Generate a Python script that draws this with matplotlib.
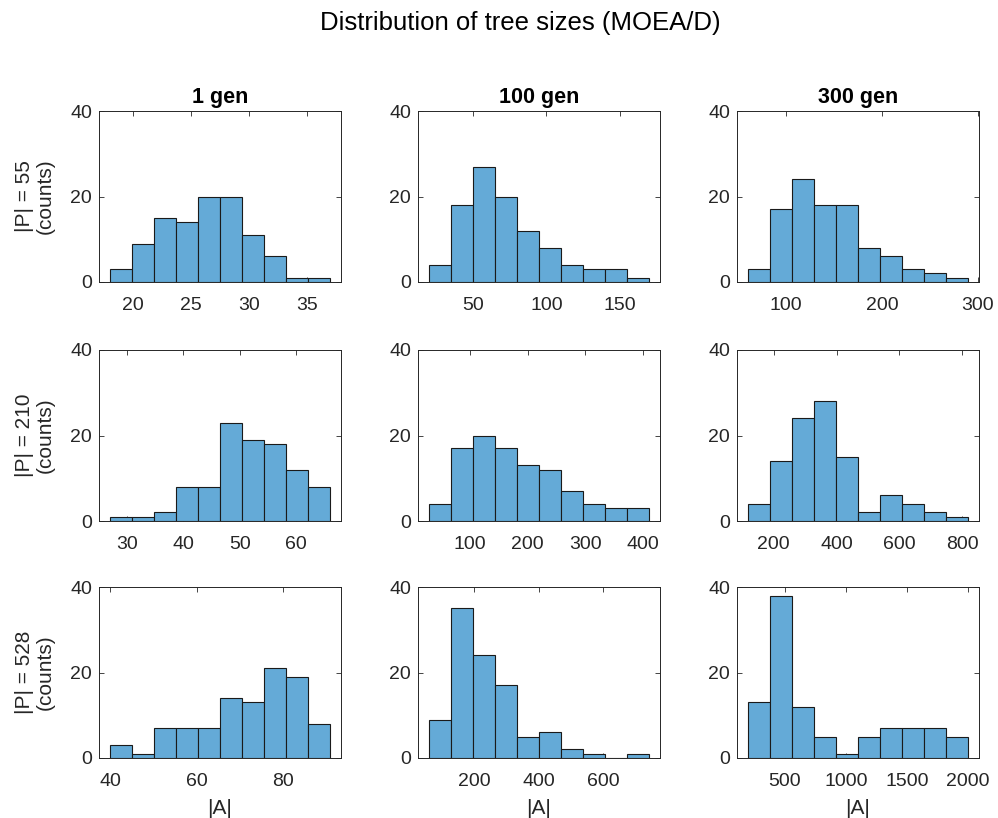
import numpy as np
import matplotlib
matplotlib.use("Agg")
import matplotlib.pyplot as plt

plt.rcParams['font.family'] = ['Liberation Sans', 'DejaVu Sans']

title = "Distribution of tree sizes (MOEA/D)"
col_titles = ["1 gen", "100 gen", "300 gen"]
row_labels = ["|P| = 55\n(counts)", "|P| = 210\n(counts)", "|P| = 528\n(counts)"]
xlabel = "|A|"

# bin edges and counts (row = |P|, col = generation)
edges_55_1 = [18.0, 19.9, 21.8, 23.7, 25.6, 27.5, 29.4, 31.3, 33.2, 35.1, 37.0]
counts_55_1 = [3, 9, 15, 14, 20, 20, 11, 6, 1, 1]
edges_55_100 = [20, 35, 50, 65, 80, 95, 110, 125, 140, 155, 170]
counts_55_100 = [4, 18, 27, 20, 12, 8, 4, 3, 3, 1]
edges_55_300 = [60, 83, 106, 129, 152, 175, 198, 221, 244, 267, 290]
counts_55_300 = [3, 17, 24, 18, 18, 8, 6, 3, 2, 1]

edges_210_1 = [27.0, 30.9, 34.8, 38.7, 42.6, 46.5, 50.4, 54.3, 58.2, 62.1, 66.0]
counts_210_1 = [1, 1, 2, 8, 8, 23, 19, 18, 12, 8]
edges_210_100 = [29, 67.1, 105.2, 143.3, 181.4, 219.5, 257.6, 295.7, 333.8, 371.9, 410]
counts_210_100 = [4, 17, 20, 17, 13, 12, 7, 4, 3, 3]
edges_210_300 = [118, 188, 258, 328, 398, 468, 538, 608, 678, 748, 818]
counts_210_300 = [4, 14, 24, 28, 15, 2, 6, 4, 2, 1]

edges_528_1 = [40, 45.1, 50.2, 55.2, 60.3, 65.4, 70.5, 75.6, 80.6, 85.7, 90.8]
counts_528_1 = [3, 1, 7, 7, 7, 14, 13, 21, 19, 8]
edges_528_100 = [61, 129.1, 197.2, 265.3, 333.4, 401.5, 469.6, 537.7, 605.8, 673.9, 742]
counts_528_100 = [9, 35, 24, 17, 5, 6, 2, 1, 0, 1]
edges_528_300 = [200, 380, 560, 740, 920, 1100, 1280, 1460, 1640, 1820, 2000]
counts_528_300 = [13, 38, 12, 5, 1, 5, 7, 7, 7, 5]

xticks_55 = [[20, 25, 30, 35], [50, 100, 150], [100, 200, 300]]
xticks_210 = [[30, 40, 50, 60], [100, 200, 300, 400], [200, 400, 600, 800]]
xticks_528 = [[40, 60, 80], [200, 400, 600], [500, 1000, 1500, 2000]]
yticks = [0, 20, 40]

edges = [[edges_55_1, edges_55_100, edges_55_300],
         [edges_210_1, edges_210_100, edges_210_300],
         [edges_528_1, edges_528_100, edges_528_300]]
counts = [[counts_55_1, counts_55_100, counts_55_300],
          [counts_210_1, counts_210_100, counts_210_300],
          [counts_528_1, counts_528_100, counts_528_300]]
xticks = [xticks_55, xticks_210, xticks_528]

W, H = 998, 818
fig = plt.figure(figsize=(W / 100, H / 100), dpi=100)

lefts = [99, 418, 737]
tops = [111, 350, 587]
aw, ah = 242, 171
axc = '#262626'
face = '#64AAD7'

for r in range(3):
    for c in range(3):
        ax = fig.add_axes([lefts[c] / W, 1 - (tops[r] + ah) / H, aw / W, ah / H])
        e = np.array(edges[r][c], dtype=float)
        ax.bar(e[:-1], counts[r][c], width=np.diff(e), align='edge',
               color=face, edgecolor='#1a1a1a', linewidth=0.8, zorder=2)
        ax.margins(x=0.05)
        ax.set_ylim(0, 40)
        ax.set_yticks(yticks)
        ax.set_xticks(xticks[r][c])
        ax.tick_params(direction='in', top=True, right=True, length=3.5,
                       width=0.6, color=axc, labelcolor=axc, labelsize=14)
        ax.tick_params(axis='x', pad=11)
        ax.tick_params(axis='y', pad=5)
        for s in ax.spines.values():
            s.set_color(axc)
            s.set_linewidth(0.7)
        if r == 0:
            ax.set_title(col_titles[c], fontsize=15.5, fontweight='bold', pad=6, color='black')
        if c == 0:
            ax.set_ylabel(row_labels[r], fontsize=15, color=axc, labelpad=11, linespacing=1.15)
        if r == 2:
            ax.set_xlabel(xlabel, fontsize=15, color=axc, labelpad=6)

fig.text(520 / W, 1 - 23 / H, title, ha='center', va='center', fontsize=18.5, color='black')

fig.savefig('out.png', dpi=100)
